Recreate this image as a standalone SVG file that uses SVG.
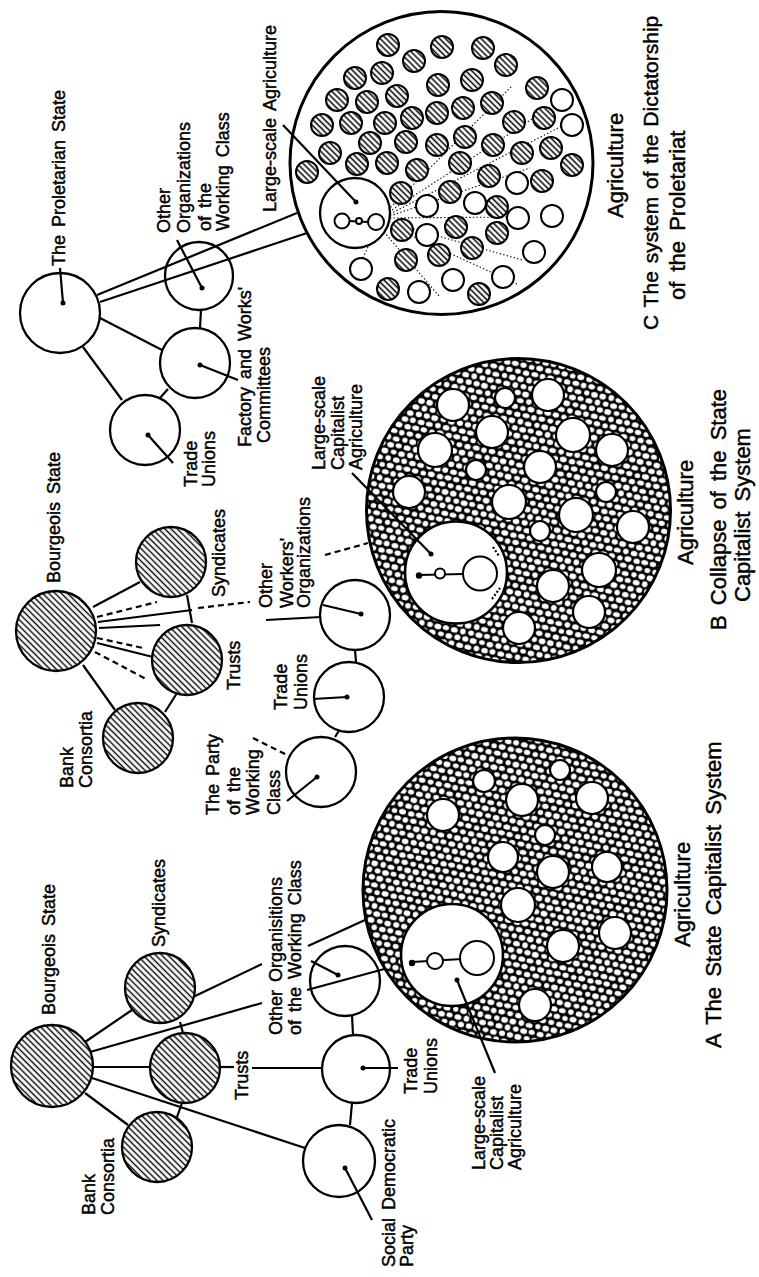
<svg xmlns="http://www.w3.org/2000/svg" width="759" height="1277" viewBox="0 0 759 1277">
<style>
.n{fill:#fff;stroke:#000;stroke-width:2.3}
.h{fill:url(#hatch);stroke:#000;stroke-width:2.3}
.sh{fill:url(#hatch2);stroke:#000;stroke-width:2}
.sw{fill:#fff;stroke:#000;stroke-width:2}
.big{stroke:#000;stroke-width:3}
.hole{fill:#fff;stroke:#000;stroke-width:2.2}
.dot{fill:#000}
.ln{stroke:#000;stroke-width:2.2;fill:none;stroke-linecap:butt}
.ds{stroke-dasharray:6 4}
.dt{stroke:#000;stroke-width:1.1;stroke-dasharray:1.4 2.2;fill:none}
text{font-family:"Liberation Sans",Arial,Helvetica,sans-serif;fill:#000;stroke:#000;stroke-width:0.45}
.t{font-size:18px;word-spacing:3px}
.cap{font-size:22px;word-spacing:4px}
.capc{font-size:21px;word-spacing:2px}
</style>
<defs>
<pattern id="hatch" patternUnits="userSpaceOnUse" width="4.4" height="4.4" patternTransform="rotate(45)">
<rect width="4.4" height="4.4" fill="#fff"/><line x1="0" y1="2.2" x2="4.4" y2="2.2" stroke="#000" stroke-width="1.4"/>
</pattern>
<pattern id="hatch2" patternUnits="userSpaceOnUse" width="4.2" height="4.2" patternTransform="rotate(45)">
<rect width="4.2" height="4.2" fill="#fff"/><line x1="0" y1="2.1" x2="4.2" y2="2.1" stroke="#000" stroke-width="1.5"/>
</pattern>
<pattern id="foam" patternUnits="userSpaceOnUse" width="30" height="30" patternTransform="scale(1.4) rotate(12)">
<rect width="30" height="30" fill="#000"/>
<g fill="#fff">
<ellipse cx="3" cy="2.6" rx="2.3" ry="1.9"/><ellipse cx="9.3" cy="2.3" rx="2.5" ry="1.8"/><ellipse cx="15" cy="2.7" rx="2" ry="2"/><ellipse cx="20.8" cy="2.4" rx="2.4" ry="1.9"/><ellipse cx="27" cy="2.5" rx="2.1" ry="1.7"/>
<ellipse cx="0" cy="7.6" rx="2.4" ry="2"/><ellipse cx="6.2" cy="7.3" rx="2" ry="2.1"/><ellipse cx="12" cy="7.8" rx="2.5" ry="1.8"/><ellipse cx="18.3" cy="7.4" rx="1.9" ry="1.9"/><ellipse cx="24" cy="7.6" rx="2.4" ry="2"/><ellipse cx="30" cy="7.6" rx="2.4" ry="2"/>
<ellipse cx="3.2" cy="12.4" rx="2.1" ry="1.9"/><ellipse cx="9" cy="12.7" rx="2.5" ry="2"/><ellipse cx="14.8" cy="12.3" rx="2.2" ry="1.8"/><ellipse cx="21" cy="12.6" rx="2.5" ry="1.9"/><ellipse cx="27.2" cy="12.5" rx="2" ry="2.1"/>
<ellipse cx="0" cy="17.3" rx="2.2" ry="1.9"/><ellipse cx="5.8" cy="17.6" rx="2.5" ry="2"/><ellipse cx="12.2" cy="17.4" rx="2.1" ry="1.7"/><ellipse cx="18" cy="17.7" rx="2.4" ry="2"/><ellipse cx="24.2" cy="17.3" rx="2.2" ry="2"/><ellipse cx="30" cy="17.3" rx="2.2" ry="1.9"/>
<ellipse cx="3" cy="22.7" rx="2.5" ry="1.8"/><ellipse cx="9.2" cy="22.4" rx="2" ry="2"/><ellipse cx="15.2" cy="22.6" rx="2.4" ry="1.9"/><ellipse cx="20.9" cy="22.3" rx="2.1" ry="1.9"/><ellipse cx="27" cy="22.6" rx="2.5" ry="1.8"/>
<ellipse cx="0" cy="27.4" rx="2.3" ry="1.9"/><ellipse cx="6" cy="27.7" rx="2" ry="1.8"/><ellipse cx="11.8" cy="27.3" rx="2.5" ry="2"/><ellipse cx="18.2" cy="27.6" rx="2.3" ry="1.9"/><ellipse cx="24" cy="27.4" rx="2.5" ry="1.8"/><ellipse cx="30" cy="27.4" rx="2.3" ry="1.9"/>
</g>
</pattern>
</defs>
<rect width="759" height="1277" fill="#fff"/>

<!-- ================= CONNECTORS ================= -->
<g id="connectors">
<!-- C -->
<line class="ln" x1="83" y1="347" x2="122" y2="400"/>
<line class="ln" x1="100" y1="318" x2="162" y2="350"/>
<line class="ln" x1="201" y1="310" x2="200" y2="328"/>
<line class="ln" x1="168" y1="389" x2="160" y2="398"/>
<line class="ln" x1="97" y1="295" x2="297" y2="213"/>
<line class="ln" x1="100" y1="302" x2="322" y2="228"/>
<!-- B -->
<line class="ln" x1="93" y1="607" x2="140" y2="582"/>
<line class="ln ds" x1="97" y1="617" x2="157" y2="602"/>
<line class="ln" x1="98" y1="622" x2="192" y2="610"/>
<line class="ln ds" x1="198" y1="608" x2="250" y2="602"/>
<line class="ln" x1="99" y1="628" x2="160" y2="625"/>
<line class="ln" x1="266" y1="620" x2="321" y2="617"/>
<line class="ln ds" x1="97" y1="638" x2="143" y2="648"/>
<line class="ln" x1="97" y1="643" x2="153" y2="657"/>
<line class="ln ds" x1="95" y1="652" x2="148" y2="680"/>
<line class="ln" x1="83" y1="665" x2="115" y2="710"/>
<line class="ln" x1="177" y1="693" x2="165" y2="712"/>
<line class="ln" x1="187" y1="595" x2="192" y2="623"/>
<line class="ln ds" x1="325" y1="555" x2="368" y2="543"/>
<line class="ln ds" x1="253" y1="738" x2="287" y2="755"/>
<line class="ln" x1="335" y1="737" x2="340" y2="729"/>
<line class="ln" x1="355" y1="650" x2="356" y2="662"/>
<!-- A -->
<line class="ln" x1="85" y1="1042" x2="132" y2="1010"/>
<line class="ln" x1="85" y1="1093" x2="128" y2="1125"/>
<line class="ln" x1="93" y1="1067" x2="152" y2="1067"/>
<line class="ln" x1="180" y1="1022" x2="183" y2="1033"/>
<line class="ln" x1="182" y1="1103" x2="177" y2="1117"/>
<line class="ln" x1="90" y1="1052" x2="262" y2="1003"/>
<line class="ln" x1="307" y1="990" x2="388" y2="968"/>
<line class="ln" x1="193" y1="997" x2="262" y2="964"/>
<line class="ln" x1="308" y1="946" x2="365" y2="920"/>
<line class="ln" x1="220" y1="1067" x2="234" y2="1067"/>
<line class="ln" x1="252" y1="1068" x2="322" y2="1068"/>
<line class="ln" x1="92" y1="1078" x2="305" y2="1148"/>
<line class="ln" x1="352" y1="1015" x2="353" y2="1035"/>
<line class="ln" x1="352" y1="1103" x2="350" y2="1125"/>
</g>

<!-- ================= C : Dictatorship of the Proletariat ================= -->
<g id="C-agriculture">
<circle class="n big" cx="441.5" cy="163" r="151.5"/>
<g id="C-dotted">
<path class="dt" d="M388 210 L512 86 M389 212 L555 104 M390 214 L562 126 M390 216 L530 168 M390 218 L512 217 M389 222 L522 260 M388 225 L517 284 M384 232 L440 297 M368 247 L362 260"/>
</g>
<g id="C-hatched">
<circle class="sh" cx="388" cy="45" r="11"/><circle class="sh" cx="414" cy="61" r="11"/><circle class="sh" cx="442" cy="47" r="11"/><circle class="sh" cx="483" cy="48" r="11"/><circle class="sh" cx="506" cy="65" r="11"/>
<circle class="sh" cx="355" cy="78" r="11"/><circle class="sh" cx="382" cy="73" r="11"/><circle class="sh" cx="438" cy="85" r="11"/><circle class="sh" cx="472" cy="80" r="11"/><circle class="sh" cx="537" cy="88" r="11"/>
<circle class="sh" cx="337" cy="100" r="11"/><circle class="sh" cx="367" cy="102" r="11"/><circle class="sh" cx="397" cy="96" r="11"/><circle class="sh" cx="437" cy="113" r="11"/><circle class="sh" cx="463" cy="108" r="11"/><circle class="sh" cx="492" cy="103" r="11"/>
<circle class="sh" cx="322" cy="125" r="11"/><circle class="sh" cx="351" cy="123" r="11"/><circle class="sh" cx="385" cy="123" r="11"/><circle class="sh" cx="412" cy="118" r="11"/><circle class="sh" cx="514" cy="122" r="11"/><circle class="sh" cx="544" cy="118" r="11"/>
<circle class="sh" cx="330" cy="153" r="11"/><circle class="sh" cx="370" cy="143" r="11"/><circle class="sh" cx="406" cy="142" r="11"/><circle class="sh" cx="437" cy="145" r="11"/><circle class="sh" cx="465" cy="137" r="11"/><circle class="sh" cx="493" cy="145" r="11"/><circle class="sh" cx="522" cy="153" r="11"/><circle class="sh" cx="551" cy="148" r="11"/>
<circle class="sh" cx="307" cy="172" r="11"/><circle class="sh" cx="357" cy="164" r="11"/><circle class="sh" cx="387" cy="163" r="11"/><circle class="sh" cx="417" cy="170" r="11"/><circle class="sh" cx="460" cy="163" r="11"/><circle class="sh" cx="489" cy="176" r="11"/><circle class="sh" cx="572" cy="165" r="11"/>
<circle class="sh" cx="401" cy="193" r="11"/><circle class="sh" cx="450" cy="192" r="11"/><circle class="sh" cx="542" cy="181" r="11"/><circle class="sh" cx="497" cy="207" r="11"/>
<circle class="sh" cx="402" cy="230" r="11"/><circle class="sh" cx="456" cy="227" r="11"/><circle class="sh" cx="497" cy="233" r="11"/>
<circle class="sh" cx="439" cy="255" r="11"/><circle class="sh" cx="472" cy="248" r="11"/><circle class="sh" cx="406" cy="260" r="11"/>
<circle class="sh" cx="388" cy="289" r="11"/><circle class="sh" cx="479" cy="294" r="11"/>
</g>
<g id="C-white">
<circle class="sw" cx="562" cy="100" r="11"/><circle class="sw" cx="572" cy="125" r="11"/><circle class="sw" cx="517" cy="183" r="11"/><circle class="sw" cx="427" cy="206" r="11"/><circle class="sw" cx="475" cy="203" r="11"/><circle class="sw" cx="518" cy="218" r="11"/><circle class="sw" cx="552" cy="216" r="11"/><circle class="sw" cx="427" cy="235" r="11"/><circle class="sw" cx="534" cy="252" r="11"/><circle class="sw" cx="361" cy="269" r="11"/><circle class="sw" cx="453" cy="280" r="11"/><circle class="sw" cx="503" cy="277" r="11"/><circle class="sw" cx="419" cy="292" r="11"/>
</g>
<g id="C-large-scale-agriculture">
<circle class="n" cx="355" cy="213" r="35"/>
<line class="ln" x1="349" y1="221" x2="368" y2="222" stroke-width="1.6"/>
<circle class="sw" cx="342" cy="221" r="7.5"/><circle class="sw" cx="359" cy="221" r="3"/><circle class="sw" cx="376" cy="222" r="8"/>
<circle class="dot" cx="356" cy="202" r="2.5"/>
<line class="ln" x1="283" y1="125" x2="356" y2="202" stroke-width="1.8"/>
<text class="t" transform="translate(276 212) rotate(-90)">Large-scale Agriculture</text>
</g>
</g>
<g id="C-proletarian-state">
<circle class="n" cx="60" cy="313" r="40"/>
<circle class="dot" cx="63" cy="303" r="2.5"/>
<line class="ln" x1="60" y1="268" x2="63" y2="303" stroke-width="1.8"/>
<text class="t" transform="translate(65 266) rotate(-90)">The Proletarian State</text>
</g>
<g id="C-other-organizations">
<circle class="n" cx="199" cy="276" r="34" style="fill:none"/>
<circle class="dot" cx="202" cy="288" r="2.5"/>
<line class="ln" x1="177" y1="240" x2="202" y2="288" stroke-width="1.8"/>
<text class="t" transform="translate(170 233) rotate(-90)">Other</text>
<text class="t" transform="translate(190 233) rotate(-90)">Organizations</text>
<text class="t" transform="translate(211 231) rotate(-90)">of the</text>
<text class="t" transform="translate(229 231) rotate(-90)">Working Class</text>
</g>
<g id="C-factory-committees">
<circle class="n" cx="195" cy="363" r="35"/>
<circle class="dot" cx="200" cy="365" r="2.5"/>
<line class="ln" x1="200" y1="365" x2="238" y2="380" stroke-width="1.8"/>
<text class="t" transform="translate(251 447) rotate(-90)">Factory and Works'</text>
<text class="t" transform="translate(270 443) rotate(-90)">Committees</text>
</g>
<g id="C-trade-unions">
<circle class="n" cx="145" cy="430" r="35"/>
<circle class="dot" cx="148" cy="435" r="2.5"/>
<line class="ln" x1="148" y1="435" x2="173" y2="463" stroke-width="1.8"/>
<text class="t" transform="translate(197 487) rotate(-90)">Trade</text>
<text class="t" transform="translate(215 487) rotate(-90)">Unions</text>
</g>
<g id="C-caption">
<text class="cap" transform="translate(623 218) rotate(-90)">Agriculture</text>
<text class="capc" transform="translate(658 330) rotate(-90)">C  The system of the Dictatorship</text>
<text class="cap" transform="translate(685 300) rotate(-90)">of the Proletariat</text>
</g>

<!-- ================= B : Collapse ================= -->
<g id="B-agriculture">
<circle class="big" cx="518.5" cy="510.5" r="152" fill="url(#foam)"/>
<circle class="hole" cx="453" cy="405" r="16"/><circle class="hole" cx="505" cy="398" r="10"/><circle class="hole" cx="548" cy="395" r="16"/><circle class="hole" cx="492" cy="432" r="16"/><circle class="hole" cx="573" cy="435" r="17"/><circle class="hole" cx="435" cy="450" r="17"/><circle class="hole" cx="540" cy="467" r="16"/><circle class="hole" cx="612" cy="450" r="16"/><circle class="hole" cx="476" cy="470" r="10"/><circle class="hole" cx="409" cy="492" r="16"/><circle class="hole" cx="509" cy="502" r="17"/><circle class="hole" cx="606" cy="492" r="10"/><circle class="hole" cx="576" cy="515" r="17"/><circle class="hole" cx="633" cy="527" r="16"/><circle class="hole" cx="540" cy="531" r="10"/><circle class="hole" cx="599" cy="570" r="17"/><circle class="hole" cx="553" cy="586" r="16"/><circle class="hole" cx="589" cy="612" r="16"/><circle class="hole" cx="519" cy="628" r="16"/>
<g id="B-large-scale-agriculture">
<circle class="n" cx="456" cy="572.5" r="51" style="stroke-width:2.6"/>
<line class="ln" x1="419" y1="575" x2="463" y2="574" stroke-width="1.8"/>
<circle class="dot" cx="419" cy="575.5" r="3.2"/>
<circle class="sw" cx="440" cy="573.5" r="5"/>
<circle class="sw" cx="480" cy="573.5" r="17"/>
<path class="ln" d="M493 547 L499 556 M492 599 L500 588" stroke-width="1.2" stroke-dasharray="2 2"/>
<circle class="dot" cx="431" cy="554" r="2.5"/>
<line class="ln" x1="352" y1="473" x2="431" y2="554" stroke-width="1.8"/>
<text class="t" transform="translate(325 470) rotate(-90)">Large-scale</text>
<text class="t" transform="translate(344 470) rotate(-90)">Capitalist</text>
<text class="t" transform="translate(362 470) rotate(-90)">Agriculture</text>
</g>
</g>
<g id="B-bourgeois-state">
<circle class="h" cx="56" cy="631" r="40"/>
<text class="t" transform="translate(60 583) rotate(-90)">Bourgeois State</text>
</g>
<g id="B-syndicates">
<circle class="h" cx="171" cy="562" r="35"/>
<text class="t" transform="translate(225 597) rotate(-90)">Syndicates</text>
</g>
<g id="B-trusts">
<circle class="h" cx="187" cy="660" r="35"/>
<text class="t" transform="translate(240 690) rotate(-90)">Trusts</text>
</g>
<g id="B-bank-consortia">
<circle class="h" cx="138" cy="738" r="35"/>
<text class="t" transform="translate(73 788) rotate(-90)">Bank</text>
<text class="t" transform="translate(92 788) rotate(-90)">Consortia</text>
</g>
<g id="B-party">
<circle class="n" cx="321" cy="772" r="35"/>
<circle class="dot" cx="317" cy="777" r="2.5"/>
<line class="ln" x1="287" y1="801" x2="317" y2="777" stroke-width="1.8"/>
<text class="t" transform="translate(219 815) rotate(-90)">The Party</text>
<text class="t" transform="translate(240 815) rotate(-90)">of the</text>
<text class="t" transform="translate(259 815) rotate(-90)">Working</text>
<text class="t" transform="translate(280 815) rotate(-90)">Class</text>
</g>
<g id="B-trade-unions">
<circle class="n" cx="349" cy="697" r="35"/>
<circle class="dot" cx="347" cy="697" r="2.5"/>
<line class="ln" x1="313" y1="699" x2="347" y2="697" stroke-width="1.8"/>
<text class="t" transform="translate(287 710) rotate(-90)">Trade</text>
<text class="t" transform="translate(307 710) rotate(-90)">Unions</text>
</g>
<g id="B-other-workers-organizations">
<circle class="n" cx="355" cy="615" r="35"/>
<circle class="dot" cx="361" cy="614" r="2.5"/>
<line class="ln" x1="323" y1="605" x2="361" y2="614" stroke-width="1.8"/>
<text class="t" transform="translate(272 608) rotate(-90)">Other</text>
<text class="t" transform="translate(293 608) rotate(-90)">Workers'</text>
<text class="t" transform="translate(310 608) rotate(-90)">Organizations</text>
</g>
<g id="B-caption">
<text class="cap" transform="translate(693 565) rotate(-90)">Agriculture</text>
<text class="cap" transform="translate(726 630) rotate(-90)">B  Collapse of the State</text>
<text class="cap" transform="translate(750 602) rotate(-90)">Capitalist System</text>
</g>

<!-- ================= A : State Capitalist System ================= -->
<g id="A-agriculture">
<circle class="big" cx="515" cy="890" r="152" fill="url(#foam)"/>
<circle class="hole" cx="484" cy="781" r="11"/><circle class="hole" cx="443" cy="815" r="16"/><circle class="hole" cx="522" cy="800" r="16"/><circle class="hole" cx="560" cy="770" r="10"/><circle class="hole" cx="592" cy="798" r="16"/><circle class="hole" cx="545" cy="835" r="10"/><circle class="hole" cx="503" cy="857" r="15"/><circle class="hole" cx="553" cy="872" r="16"/><circle class="hole" cx="607" cy="867" r="15"/><circle class="hole" cx="518" cy="905" r="17"/><circle class="hole" cx="563" cy="946" r="16"/><circle class="hole" cx="615" cy="933" r="16"/><circle class="hole" cx="535" cy="1005" r="16"/>
<g id="A-large-scale-agriculture">
<circle class="n" cx="452" cy="955" r="51" style="stroke-width:2.6"/>
<line class="ln" x1="412" y1="962" x2="462" y2="959" stroke-width="1.8"/>
<circle class="dot" cx="412" cy="963" r="3.2"/>
<circle class="sw" cx="435" cy="961" r="8"/>
<circle class="sw" cx="477" cy="958" r="17"/>
<circle class="dot" cx="457" cy="980" r="2.5"/>
<line class="ln" x1="457" y1="980" x2="495" y2="1073" stroke-width="1.8"/>
<text class="t" transform="translate(485 1170) rotate(-90)">Large-scale</text>
<text class="t" transform="translate(503 1170) rotate(-90)">Capitalist</text>
<text class="t" transform="translate(521 1170) rotate(-90)">Agriculture</text>
</g>
</g>
<g id="A-bourgeois-state">
<circle class="h" cx="52" cy="1066" r="41"/>
<text class="t" transform="translate(55 1015) rotate(-90)">Bourgeois State</text>
</g>
<g id="A-syndicates">
<circle class="h" cx="160" cy="988" r="35"/>
<text class="t" transform="translate(165 947) rotate(-90)">Syndicates</text>
</g>
<g id="A-trusts">
<circle class="h" cx="185" cy="1068" r="35"/>
<text class="t" transform="translate(248 1100) rotate(-90)">Trusts</text>
</g>
<g id="A-bank-consortia">
<circle class="h" cx="157" cy="1147" r="35"/>
<text class="t" transform="translate(95 1215) rotate(-90)">Bank</text>
<text class="t" transform="translate(114 1215) rotate(-90)">Consortia</text>
</g>
<g id="A-other-organisations">
<circle class="n" cx="345" cy="981" r="35" style="fill:none"/>
<circle class="dot" cx="338" cy="975" r="2.5"/>
<line class="ln" x1="311" y1="961" x2="338" y2="975" stroke-width="1.8"/>
<text class="t" transform="translate(282 1035) rotate(-90)">Other Organisitions</text>
<text class="t" transform="translate(301 1035) rotate(-90)">of the Working Class</text>
</g>
<g id="A-trade-unions">
<circle class="n" cx="356" cy="1069" r="34"/>
<circle class="dot" cx="363" cy="1068" r="2.5"/>
<line class="ln" x1="363" y1="1068" x2="398" y2="1068" stroke-width="1.8"/>
<text class="t" transform="translate(417 1094) rotate(-90)">Trade</text>
<text class="t" transform="translate(437 1094) rotate(-90)">Unions</text>
</g>
<g id="A-social-democratic-party">
<circle class="n" cx="339" cy="1161" r="36"/>
<circle class="dot" cx="345" cy="1168" r="2.5"/>
<line class="ln" x1="345" y1="1168" x2="372" y2="1220" stroke-width="1.8"/>
<text class="t" transform="translate(395 1267) rotate(-90)">Social Democratic</text>
<text class="t" transform="translate(413 1267) rotate(-90)">Party</text>
</g>
<g id="A-caption">
<text class="cap" transform="translate(690 947) rotate(-90)">Agriculture</text>
<text class="cap" transform="translate(721 1048) rotate(-90)">A  The State Capitalist System</text>
</g>
</svg>
